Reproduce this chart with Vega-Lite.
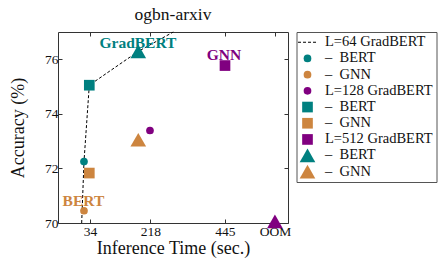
{
  "$schema": "https://vega.github.io/schema/vega-lite/v6.json",
  "autosize": {"type": "none"},
  "padding": {"left": 58, "top": 32, "right": 150, "bottom": 37},
  "width": 230,
  "height": 191,
  "title": {"text": "ogbn-arxiv", "font": "Liberation Serif", "fontSize": 17.5, "fontWeight": "normal", "color": "#111", "baseline": "alphabetic", "offset": -7},
  "config": {
    "view": {"stroke": "#333", "strokeWidth": 1},
    "title": {"fontSize": 17.5},
    "axis": {"labelFont": "Liberation Serif", "titleFont": "Liberation Serif", "labelColor": "#111", "titleColor": "#111", "titleFontWeight": "normal", "titleFontSize": 18, "labelFontSize": 13.5, "grid": false, "domain": false, "tickColor": "#333", "tickSize": -4}
  },
  "datasets": {
    "pts": [
      {"t": 15.7, "acc": 72.25, "key": "k1"},
      {"t": 15.7, "acc": 70.45, "key": "k2"},
      {"t": 216.6, "acc": 73.39, "key": "k3"},
      {"t": 31.9, "acc": 75.05, "key": "k4"},
      {"t": 31.9, "acc": 71.83, "key": "k5"},
      {"t": 445, "acc": 75.77, "key": "k6"},
      {"t": 181, "acc": 76.29, "key": "k7"},
      {"t": 181, "acc": 73.05, "key": "k8"},
      {"t": 597, "acc": 70.06, "key": "k9"}
    ],
    "line": [
      {"o": 0, "t": 8.7, "acc": 70.0},
      {"o": 1, "t": 15.7, "acc": 72.25},
      {"o": 2, "t": 31.9, "acc": 75.05},
      {"o": 3, "t": 181, "acc": 76.29},
      {"o": 4, "t": 287.6, "acc": 77.0}
    ],
    "labels": [
      {"t": 180, "acc": 76.59, "text": "GradBERT", "model": "GradBERT"},
      {"t": 442, "acc": 76.14, "text": "GNN", "model": "GNN"},
      {"t": 13.9, "acc": 70.79, "text": "BERT", "model": "BERT"}
    ]
  },
  "resolve": {"axis": {"x": "independent", "y": "independent"}},
  "layer": [
    {
      "data": {"name": "line"},
      "mark": {"type": "line", "color": "black", "strokeDash": [3, 2], "strokeWidth": 1},
      "encoding": {
        "x": {"field": "t", "type": "quantitative", "scale": {"domain": [-63.4, 636.8], "nice": false, "zero": false},
              "axis": {"orient": "top", "labels": false, "title": null, "values": [34, 218, 445, 597]}},
        "y": {"field": "acc", "type": "quantitative", "scale": {"domain": [70, 77], "nice": false, "zero": false},
              "axis": {"orient": "right", "labels": false, "title": null, "values": [70, 72, 74, 76]}},
        "order": {"field": "o", "type": "quantitative"}
      }
    },
    {
      "data": {"name": "pts"},
      "transform": [{"filter": "datum.key != 'k9'"}],
      "mark": {"type": "point", "filled": true, "opacity": 1},
      "encoding": {
        "x": {"field": "t", "type": "quantitative",
              "axis": {"orient": "bottom", "title": "Inference Time (sec.)", "labelPadding": 5, "titlePadding": 2, "values": [34, 218, 445, 597], "labelExpr": "datum.value == 597 ? 'OOM' : datum.label"}},
        "y": {"field": "acc", "type": "quantitative",
              "axis": {"orient": "left", "title": "Accuracy (%)", "labelPadding": 4, "titlePadding": 17, "values": [70, 72, 74, 76]}},
        "color": {"field": "key", "type": "nominal",
          "scale": {"domain": ["k0", "k1", "k2", "k3", "k4", "k5", "k6", "k7", "k8"],
                    "range": ["black", "#008080", "#CD853F", "#800080", "#008080", "#CD853F", "#800080", "#008080", "#CD853F"]},
          "legend": {"title": null, "orient": "none", "legendX": 238.5, "legendY": 0,
            "strokeColor": "#555", "fillColor": "white", "padding": 3, "cornerRadius": 0,
            "labelFont": "Liberation Serif", "labelFontSize": 14.5, "labelColor": "#111", "labelOffset": 9.5, "rowPadding": 1.2, "labelLimit": 300,
            "labelExpr": "['L=64 GradBERT', '\u2003\u2003–\u2002BERT', '\u2003\u2003–\u2002GNN', 'L=128 GradBERT', '\u2003\u2003–\u2002BERT', '\u2003\u2003–\u2002GNN', 'L=512 GradBERT', '\u2003\u2003–\u2002BERT', '\u2003\u2003–\u2002GNN'][toNumber(slice(datum.label, 1))]"
          }},
        "shape": {"field": "key", "type": "nominal",
          "scale": {"domain": ["k0", "k1", "k2", "k3", "k4", "k5", "k6", "k7", "k8"],
                    "range": ["M-2,0L2,0", "circle", "circle", "circle", "square", "square", "square", "triangle-up", "triangle-up"]}},
        "size": {"field": "key", "type": "nominal",
          "scale": {"type": "ordinal", "domain": ["k0", "k1", "k2", "k3", "k4", "k5", "k6", "k7", "k8"],
                    "range": [90, 59, 59, 59, 114, 114, 114, 245, 245]}},
        "stroke": {"field": "key", "type": "nominal",
          "scale": {"domain": ["k0", "k1", "k2", "k3", "k4", "k5", "k6", "k7", "k8"],
                    "range": ["black", "transparent", "transparent", "transparent", "transparent", "transparent", "transparent", "transparent", "transparent"]}},
        "strokeDash": {"field": "key", "type": "nominal",
          "scale": {"domain": ["k0", "k1", "k2", "k3", "k4", "k5", "k6", "k7", "k8"],
                    "range": [[3, 2], [1, 0], [1, 0], [1, 0], [1, 0], [1, 0], [1, 0], [1, 0], [1, 0]]}},
        "strokeWidth": {"field": "key", "type": "nominal",
          "scale": {"type": "ordinal", "domain": ["k0", "k1", "k2", "k3", "k4", "k5", "k6", "k7", "k8"],
                    "range": [1.2, 0, 0, 0, 0, 0, 0, 0, 0]}}
      }
    },
    {
      "data": {"name": "pts"},
      "transform": [{"filter": "datum.key == 'k9'"}],
      "mark": {"type": "point", "filled": true, "opacity": 1, "color": "#800080", "shape": "triangle-up", "size": 245},
      "encoding": {
        "x": {"field": "t", "type": "quantitative", "axis": null},
        "y": {"field": "acc", "type": "quantitative", "axis": null}
      }
    },
    {
      "data": {"name": "labels"},
      "mark": {"type": "text", "font": "Liberation Serif", "fontWeight": "bold", "fontSize": 15.5, "baseline": "middle", "align": "center"},
      "encoding": {
        "x": {"field": "t", "type": "quantitative", "axis": null},
        "y": {"field": "acc", "type": "quantitative", "axis": null},
        "text": {"field": "text"},
        "fill": {"field": "model", "type": "nominal", "legend": null,
          "scale": {"domain": ["GradBERT", "GNN", "BERT"], "range": ["#008080", "#800080", "#CD853F"]}}
      }
    }
  ]
}
